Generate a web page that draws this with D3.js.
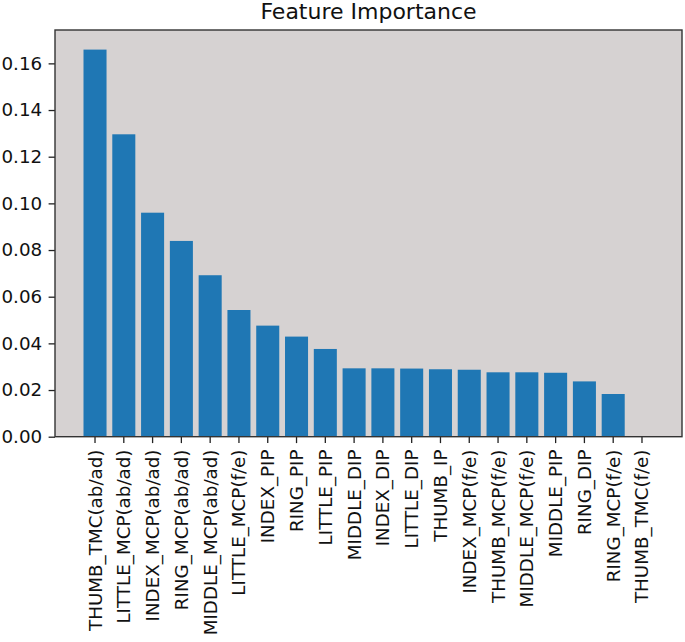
<!DOCTYPE html>
<html>
<head>
<meta charset="utf-8">
<script src="https://cdn.jsdelivr.net/npm/d3@7"></script>
<style>
  body { margin: 0; background: #fff; }
  text { font-family: "DejaVu Sans", sans-serif; }
</style>
</head>
<body>
<div id="chart"></div>
<script>
// bar chart of feature importance, sorted descending

var features = [
  "THUMB_TMC(ab/ad)", "LITTLE_MCP(ab/ad)", "INDEX_MCP(ab/ad)", "RING_MCP(ab/ad)",
  "MIDDLE_MCP(ab/ad)", "LITTLE_MCP(f/e)", "INDEX_PIP", "RING_PIP", "LITTLE_PIP",
  "MIDDLE_DIP", "INDEX_DIP", "LITTLE_DIP", "THUMB_IP", "INDEX_MCP(f/e)",
  "THUMB_MCP(f/e)", "MIDDLE_MCP(f/e)", "MIDDLE_PIP", "RING_DIP", "RING_MCP(f/e)",
  "THUMB_TMC(f/e)"
];
var importance = [
  0.1659, 0.1296, 0.0960, 0.0839, 0.0692, 0.0543, 0.0476, 0.0429, 0.0376,
  0.0293, 0.0293, 0.0292, 0.0289, 0.0287, 0.0276, 0.0276, 0.0274, 0.0237,
  0.0183, 0.0
];
var yTicks = [0, 0.02, 0.04, 0.06, 0.08, 0.10, 0.12, 0.14, 0.16];

var svgWidth = 685;
var svgHeight = 642;

var margin = { top: 30, right: 3, bottom: 205.3, left: 55 };
var width = svgWidth - margin.left - margin.right;
var height = svgHeight - margin.top - margin.bottom;

var data = features.map(function(f, i) { return { name: f, value: importance[i] }; });

var svg = d3.select("#chart")
  .append("svg")
  .attr("width", svgWidth)
  .attr("height", svgHeight);

var chartGroup = svg.append("g")
  .attr("transform", `translate(${margin.left}, ${margin.top})`);

var xScale = d3.scaleBand()
  .domain(features)
  .range([0, width])
  .paddingInner(0.2)
  .paddingOuter(0.99);

var yScale = d3.scaleLinear()
  .domain([0, 0.1743])
  .range([height, 0]);

// plot background
chartGroup.append("rect")
  .attr("width", width)
  .attr("height", height)
  .attr("fill", "#d6d2d2");

chartGroup.append("g")
  .selectAll("rect.bar")
  .data(data)
  .enter()
  .append("rect")
  .attr("class", "bar")
  .attr("x", function(d) { return xScale(d.name); })
  .attr("y", function(d) { return yScale(d.value); })
  .attr("width", xScale.bandwidth())
  .attr("height", function(d) { return height - yScale(d.value); })
  .attr("fill", "#1f77b4");

var leftAxis = d3.axisLeft(yScale)
  .tickValues(yTicks)
  .tickFormat(d3.format(".2f"))
  .tickSize(6.4)
  .tickPadding(6.4);

var bottomAxis = d3.axisBottom(xScale)
  .tickSize(6.4)
  .tickPadding(6.4);

var yAxisG = chartGroup.append("g").call(leftAxis);
yAxisG.select(".domain").remove();
yAxisG.selectAll("line").attr("stroke", "#222").attr("stroke-width", 1.3);
yAxisG.selectAll("text").attr("font-size", "18.3px").attr("fill", "#111")
  .attr("font-family", "DejaVu Sans");

var xAxisG = chartGroup.append("g")
  .attr("transform", `translate(0, ${height})`)
  .call(bottomAxis);
xAxisG.select(".domain").remove();
xAxisG.selectAll("line").attr("stroke", "#222").attr("stroke-width", 1.3);
xAxisG.selectAll("text")
  .attr("font-size", "18.3px")
  .attr("fill", "#111")
  .attr("font-family", "DejaVu Sans")
  .attr("y", 0)
  .attr("dy", null)
  .attr("x", 0)
  .attr("text-anchor", "end")
  .attr("dominant-baseline", "central")
  .attr("transform", "translate(0, 12.8) rotate(-90)");

// spines
chartGroup.append("rect")
  .attr("width", width)
  .attr("height", height)
  .attr("fill", "none")
  .attr("stroke", "#333")
  .attr("stroke-width", 1.4);

svg.append("text")
  .attr("x", margin.left + width / 2)
  .attr("y", 19)
  .attr("text-anchor", "middle")
  .attr("font-size", "22px")
  .attr("fill", "#111")
  .text("Feature Importance");
</script>
</body>
</html>
